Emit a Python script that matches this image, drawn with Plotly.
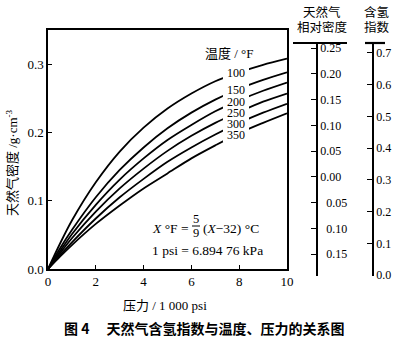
import numpy as np
import plotly.graph_objects as go

# Pressure in 1 000 psi
pressure = [0, 0.5, 1, 2, 3, 4, 5, 6, 7, 8, 9, 10]

# Natural gas density (g/cm^3) for each temperature (deg F)
temperatures = ["100", "150", "200", "250", "300", "350"]
density_100 = [0, 0.037, 0.071, 0.127, 0.172, 0.207, 0.235, 0.257, 0.275, 0.288, 0.299, 0.308]
density_150 = [0, 0.030, 0.057, 0.105, 0.145, 0.178, 0.206, 0.229, 0.248, 0.264, 0.277, 0.288]
density_200 = [0, 0.026, 0.051, 0.094, 0.131, 0.162, 0.189, 0.211, 0.231, 0.247, 0.261, 0.273]
density_250 = [0, 0.023, 0.045, 0.084, 0.118, 0.147, 0.173, 0.195, 0.214, 0.230, 0.245, 0.257]
density_300 = [0, 0.020, 0.039, 0.074, 0.105, 0.132, 0.157, 0.178, 0.197, 0.214, 0.229, 0.242]
density_350 = [0, 0.018, 0.035, 0.066, 0.093, 0.118, 0.140, 0.162, 0.181, 0.199, 0.214, 0.228]
densities = [density_100, density_150, density_200, density_250, density_300, density_350]

# Main axes ticks
x_ticks = [0, 2, 4, 6, 8, 10]
y_ticks = [0.0, 0.1, 0.2, 0.3]
y_tick_text = ["0.0", "0.1", "0.2", "0.3"]

# Side scale: relative density of natural gas
rel_density_vals = [0.25, 0.20, 0.15, 0.10, 0.05, 0.00, -0.05, -0.10, -0.15]
rel_density_text = ["0.25", "0.20", "0.15", "0.10", "0.05", "0.00",
                    "\u00a0\u00a00.05", "\u00a0\u00a00.10", "\u00a0\u00a00.15"]

# Side scale: hydrogen index
hydrogen_vals = [0.7, 0.6, 0.5, 0.4, 0.3, 0.2, 0.1, 0.0]
hydrogen_text = ["0.7", "0.6", "0.5", "0.4", "0.3", "0.2", "0.1", "0.0"]

W, H = 400, 347
SERIF = "Liberation Serif, Noto Sans CJK SC"
CJK = "Noto Sans CJK SC"


def px(x):
    return x / W


def py(y):
    return 1 - y / H


fig = go.Figure()

for temp, dens in zip(temperatures, densities):
    fig.add_trace(go.Scatter(
        x=pressure, y=dens, mode="lines", name=temp,
        line=dict(color="black", width=1.8, shape="spline", smoothing=0.8),
        showlegend=False, hoverinfo="skip",
    ))

# placeholders so the side scales are rendered
fig.add_trace(go.Scatter(x=[None], y=[None], yaxis="y2", showlegend=False, hoverinfo="skip"))
fig.add_trace(go.Scatter(x=[None], y=[None], yaxis="y3", showlegend=False, hoverinfo="skip"))

tick_font = dict(family=SERIF, size=13, color="black")
side_font = dict(family=SERIF, size=12, color="black")

fig.update_layout(
    width=W, height=H,
    margin=dict(l=0, r=0, t=0, b=0, autoexpand=False),
    paper_bgcolor="white", plot_bgcolor="rgba(0,0,0,0)",
    xaxis=dict(
        domain=[px(48), px(287)], range=[0, 10], anchor="y",
        tickvals=x_ticks, ticks="inside", ticklen=4, tickwidth=1.2, tickcolor="black",
        showline=True, linecolor="black", linewidth=1.5, mirror=True,
        showgrid=False, zeroline=False, tickfont=tick_font,
    ),
    yaxis=dict(
        domain=[py(269), py(30)], range=[0, 0.35], anchor="x",
        tickvals=y_ticks, ticktext=y_tick_text, ticks="inside", ticklen=4, tickwidth=1.2,
        tickcolor="black", showline=True, linecolor="black", linewidth=1.5, mirror=True,
        showgrid=False, zeroline=False, tickfont=tick_font,
    ),
    yaxis2=dict(
        domain=[py(276), py(43)], range=[-0.1922, 0.2597], anchor="free", position=px(317),
        side="right", tickvals=rel_density_vals, ticktext=rel_density_text,
        ticks="inside", ticklen=5, tickwidth=1.2, tickcolor="black",
        showline=True, linecolor="black", linewidth=1.5,
        showgrid=False, zeroline=False, tickfont=side_font,
    ),
    yaxis3=dict(
        domain=[py(276), py(43)], range=[-0.003, 0.7315], anchor="free", position=px(373),
        side="right", tickvals=hydrogen_vals, ticktext=hydrogen_text,
        ticks="inside", ticklen=5, tickwidth=1.2, tickcolor="black",
        showline=True, linecolor="black", linewidth=1.5,
        showgrid=False, zeroline=False, tickfont=side_font,
    ),
)

shapes = [
    # break in the curves where the temperature labels sit
    dict(type="rect", xref="x", yref="y", x0=7.32, x1=8.41, y0=0.185, y1=0.300,
         fillcolor="white", line=dict(width=0), layer="above"),
    # heavy caps on top of the side scales
    dict(type="line", xref="paper", yref="paper", x0=px(293), x1=px(347), y0=py(43), y1=py(43),
         line=dict(color="black", width=2.2)),
    dict(type="line", xref="paper", yref="paper", x0=px(365), x1=px(385), y0=py(43), y1=py(43),
         line=dict(color="black", width=2.2)),
    # fraction bar of the temperature conversion
    dict(type="line", xref="paper", yref="paper", x0=px(192), x1=px(200), y0=py(226), y1=py(226),
         line=dict(color="black", width=1)),
]

ann = []


def label(x, y, text, size=13, family=SERIF, xanchor="center", angle=0):
    ann.append(dict(x=px(x), y=py(y), xref="paper", yref="paper", text=text, showarrow=False,
                    xanchor=xanchor, yanchor="middle", textangle=angle,
                    font=dict(family=family, size=size, color="black")))


# temperature labels placed on their curves
label_p = 7.87
for temp, dens in zip(temperatures, densities):
    ann.append(dict(x=label_p, y=float(np.interp(label_p, pressure, dens)), xref="x", yref="y",
                    text=temp, showarrow=False, xanchor="center", yanchor="middle",
                    font=dict(family=SERIF, size=12, color="black")))

label(229, 53, "温度 / °F", size=13)
label(12, 163, "天然气密度 /g·cm<sup>-3</sup>", size=13, angle=-90)
label(165, 305, "压力 / 1 000 psi", size=13)

label(191, 228, "<i>X</i> °F =", size=13.5, xanchor="right")
label(196, 219, "5", size=12.5)
label(196, 233, "9", size=12.5)
label(201, 228, "(<i>X</i>−32) °C", size=13.5, xanchor="left")
label(207.5, 250, "1 psi = 6.894 76 kPa", size=13.5)

label(322, 13, "天然气", size=12.5)
label(322, 28, "相对密度", size=12.5)
label(377, 13, "含氢", size=12.5)
label(377, 28, "指数", size=12.5)

ann.append(dict(x=px(204), y=py(328), xref="paper", yref="paper",
                text="<b>图 4　 天然气含氢指数与温度、压力的关系图</b>", showarrow=False,
                xanchor="center", yanchor="middle",
                font=dict(family=CJK, size=14, color="black")))

fig.update_layout(shapes=shapes, annotations=ann)

fig.write_html("out.html")
